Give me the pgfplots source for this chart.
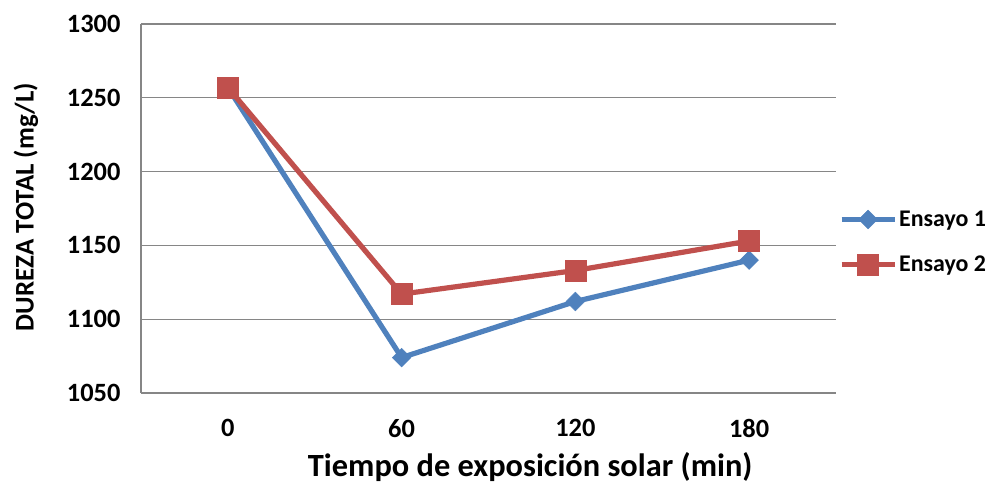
\documentclass[border=0pt]{standalone}
\usepackage{pgfplots}
\pgfplotsset{compat=1.18}
\usepackage{fontspec}
\setmainfont{Carlito}
\definecolor{serA}{HTML}{4F81BD}
\definecolor{serB}{HTML}{C0504D}
\definecolor{gridc}{HTML}{868686}
\begin{document}
\begin{tikzpicture}[x=1bp,y=1bp]
\path[use as bounding box] (-141,-93) rectangle (857,393);
\begin{axis}[
  at={(0,0)}, anchor=south west,
  scale only axis, width=695bp, height=369bp,
  xmin=-0.5, xmax=3.5, ymin=1050, ymax=1300,
  xtick={0,1,2,3}, xticklabels={0,60,120,180},
  ytick={1050,1100,...,1300},
  axis x line*=bottom, axis y line*=left,
  axis line style={gridc, line width=1.2bp, -},
  ymajorgrids, grid style={gridc, line width=1.2bp},
  major tick length=0pt,
  tick label style={font=\fontsize{26.5}{30}\selectfont\bfseries},
  /pgf/number format/assume math mode=true,
  /pgf/number format/set thousands separator={},
  yticklabel style={xshift=-17bp},
  xticklabel style={yshift=-23bp},
  xlabel={Tiempo de exposición solar (min)},
  xlabel style={font=\fontsize{32.5}{36}\selectfont\bfseries, at={(axis description cs:0.56,-0.2)}, anchor=center},
  ylabel={DUREZA TOTAL (mg/L)},
  ylabel style={font=\fontsize{27}{31}\selectfont\bfseries, at={(axis description cs:-0.1655,0.504)}, anchor=center, rotate=0},
  legend style={draw=none, fill=none, at={(axis description cs:1.004,0.409)}, anchor=west,
    font=\fontsize{24}{28}\selectfont\bfseries, row sep=24bp, inner sep=0pt,
    legend cell align=left},
  legend image code/.code={
    \draw[#1, mark=none] (0bp,0bp) -- (53bp,0bp);
    \path[#1] plot coordinates {(26.5bp,0bp)};
  },
  clip=false,
]
\addplot[serA, line width=5.2bp, mark=square*, mark size=6.6bp, mark options={rotate=45, fill=serA, solid, line width=0.5bp}]
  coordinates {(0,1257) (1,1074) (2,1112) (3,1140)};
\addlegendentry{Ensayo 1}
\addplot[serB, line width=5.2bp, mark=square*, mark size=10.5bp, mark options={fill=serB, solid, line width=0.5bp}]
  coordinates {(0,1257) (1,1117) (2,1133) (3,1153)};
\addlegendentry{Ensayo 2}
\end{axis}
\end{tikzpicture}
\end{document}
